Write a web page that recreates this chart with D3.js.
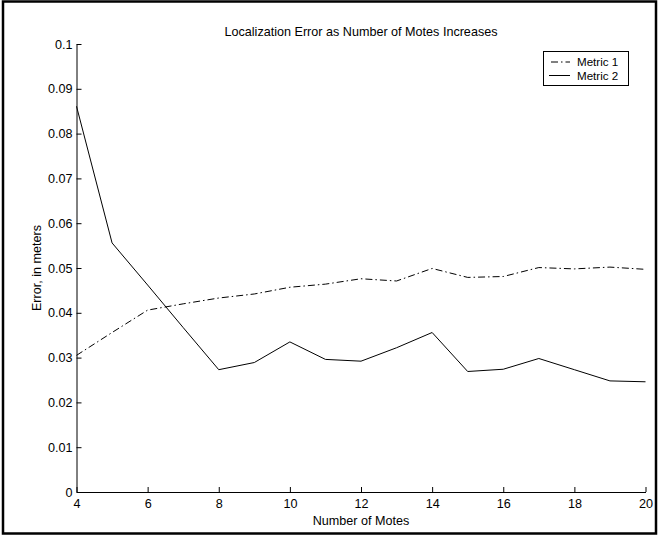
<!DOCTYPE html>
<html>
<head>
<meta charset="utf-8">
<script src="https://cdn.jsdelivr.net/npm/d3@7"></script>
<style>
  html, body { margin: 0; padding: 0; background: #fff; }
  svg { display: block; }
  text { font-family: "Liberation Sans", Arial, Helvetica, sans-serif; fill: #000; }
</style>
</head>
<body>
<svg id="chart" width="658" height="535"></svg>
<script>
const motes = [4, 5, 6, 7, 8, 9, 10, 11, 12, 13, 14, 15, 16, 17, 18, 19, 20];
const metric1 = [0.0305, 0.0356, 0.0406, 0.0420, 0.0433, 0.0442, 0.0457, 0.0464, 0.0476, 0.0471, 0.0499, 0.0479, 0.0481, 0.0501, 0.0498, 0.0502, 0.0497];
const metric2 = [0.0861, 0.0556, 0.0462, 0.0367, 0.0273, 0.0289, 0.0335, 0.0296, 0.0292, 0.0322, 0.0356, 0.0269, 0.0274, 0.0298, 0.0273, 0.0248, 0.0246];
const xTicks = [4, 6, 8, 10, 12, 14, 16, 18, 20];
const yTicks = [0, 0.01, 0.02, 0.03, 0.04, 0.05, 0.06, 0.07, 0.08, 0.09, 0.1];
const seriesNames = ["Metric 1", "Metric 2"];
const titleText = "Localization Error as Number of Motes Increases";
const xLabel = "Number of Motes";
const yLabel = "Error, in meters";

const FS = 12.6;
const LFS = 11.6;
const svg = d3.select("#chart");
const W = 658, H = 535;
const margin = {left: 76.5, right: 12.5, top: 44, bottom: 43};

// outer frame
svg.append("rect").attr("x", 3).attr("y", 1.5).attr("width", W - 5).attr("height", H - 3)
  .attr("fill", "none").attr("stroke", "#000").attr("stroke-width", 2.5);

const x = d3.scaleLinear().domain([4, 20]).range([margin.left, W - margin.right]);
const y = d3.scaleLinear().domain([0, 0.1]).range([H - margin.bottom, margin.top]);

const fmtY = d => d === 0 ? "0" : d3.format("~g")(d);

const xAxis = svg.append("g").attr("transform", `translate(0,${y(0)})`)
  .call(d3.axisBottom(x).tickValues(xTicks).tickSizeInner(-5).tickSizeOuter(0).tickPadding(7).tickFormat(d3.format("d")));
const yAxis = svg.append("g").attr("transform", `translate(${x(4)},0)`)
  .call(d3.axisLeft(y).tickValues(yTicks).tickSizeInner(-5).tickSizeOuter(0).tickPadding(4).tickFormat(fmtY));

[xAxis, yAxis].forEach(g => {
  g.select(".domain").attr("stroke", "#000").attr("stroke-width", 1);
  g.selectAll(".tick line").attr("stroke", "#000").attr("stroke-width", 1);
  g.selectAll(".tick text").attr("font-size", FS).attr("fill", "#000")
    .style("font-family", "'Liberation Sans', Arial, sans-serif");
});

const line = d3.line().x((d, i) => x(motes[i])).y(d => y(d));

svg.append("path").datum(metric1).attr("d", line)
  .attr("fill", "none").attr("stroke", "#000").attr("stroke-width", 1)
  .attr("stroke-dasharray", "7,3,1.5,3");
svg.append("path").datum(metric2).attr("d", line)
  .attr("fill", "none").attr("stroke", "#000").attr("stroke-width", 1);

// title & labels
svg.append("text").attr("x", (x(4) + x(20)) / 2).attr("y", 35.5).attr("text-anchor", "middle")
  .attr("font-size", FS).text(titleText);
svg.append("text").attr("x", (x(4) + x(20)) / 2).attr("y", 525).attr("text-anchor", "middle")
  .attr("font-size", FS).text(xLabel);
svg.append("text").attr("transform", `translate(41,${(y(0) + y(0.1)) / 2}) rotate(-90)`)
  .attr("text-anchor", "middle").attr("font-size", FS).text(yLabel);

// legend
const lg = svg.append("g");
lg.append("rect").attr("x", 543.5).attr("y", 51.5).attr("width", 85).attr("height", 34)
  .attr("fill", "#fff").attr("stroke", "#000").attr("stroke-width", 1);
const rows = [{name: seriesNames[0], dash: "7,3,1.5,3", off: 62}, {name: seriesNames[1], dash: null, off: 75.5}];
rows.forEach(r => {
  const l = lg.append("line").attr("x1", 549).attr("x2", 570).attr("y1", r.off).attr("y2", r.off)
    .attr("stroke", "#000").attr("stroke-width", 1);
  if (r.dash) l.attr("stroke-dasharray", r.dash).attr("stroke-dashoffset", -2);
  lg.append("text").attr("x", 577).attr("y", r.off + 4.2).attr("font-size", LFS).text(r.name);
});
</script>
</body>
</html>
